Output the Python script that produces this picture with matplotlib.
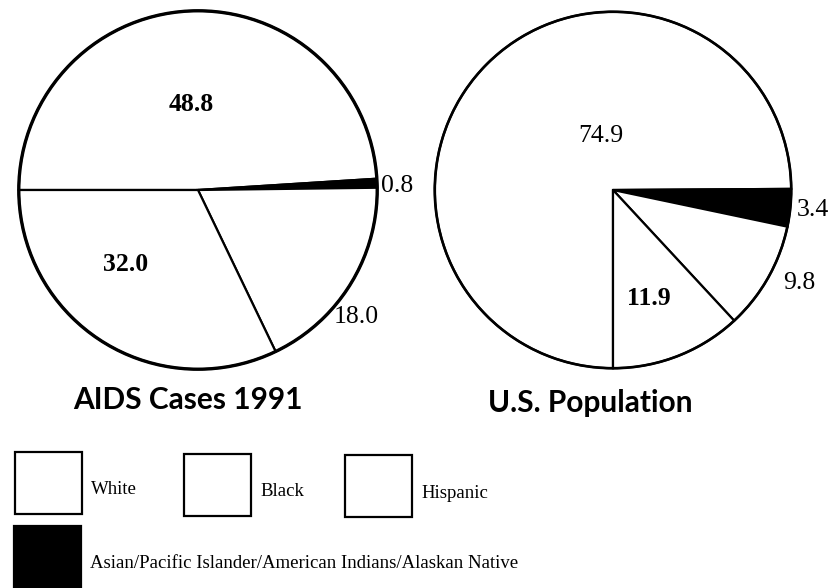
import matplotlib
matplotlib.use("Agg")
import matplotlib.pyplot as plt
from matplotlib.patches import Rectangle
import numpy as np

# ---- data ----
categories = ["White", "Asian/Pacific Islander/American Indians/Alaskan Native", "Hispanic", "Black"]
aids_values = [48.8, 0.8, 18.0, 32.0]
pop_values = [74.9, 3.4, 9.8, 11.9]
titles = ["AIDS Cases 1991", "U.S. Population"]
legend_labels = ["White", "Black", "Hispanic",
                 "Asian/Pacific Islander/American Indians/Alaskan Native"]

# ---- style ----
colors = ["white", "black", "white", "white"]
NARROW = ["Liberation Serif", "DejaVu Serif"]
TITLE_FONT = ["Lato", "DejaVu Sans"]

fig = plt.figure(figsize=(8.32, 5.88), dpi=100)
fig.patch.set_facecolor("white")

W, H = 832, 588

def add_square_axes(left_px, top_px, size_px):
    return fig.add_axes([left_px / W, 1 - (top_px + size_px) / H, size_px / W, size_px / H])

pies = [
    dict(values=aids_values, left=17, top=9, size=362, start=180, lw=2.4,
         # per-wedge label: (radius, angle tweak deg, weight)
         lab=[(0.48, 3, "bold"), (1.11, -1, "normal"), (1.13, -7, "normal"), (0.58, -12, "bold")],
         title_xy=(188, 400)),
    dict(values=pop_values, left=433, top=10, size=360, start=-90, lw=1.9,
         lab=[(0.31, -32, "normal"), (1.13, 0, "normal"), (1.17, 3, "normal"), (0.64, -3, "bold")],
         title_xy=(590, 403)),
]

for p, title in zip(pies, titles):
    ax = add_square_axes(p["left"], p["top"], p["size"])
    wedges, _ = ax.pie(p["values"], colors=colors, startangle=p["start"], counterclock=False,
                       radius=1.0, wedgeprops=dict(edgecolor="black", linewidth=1.6))
    circ = plt.Circle((0, 0), 1.0, fill=False, edgecolor="black", linewidth=p["lw"], zorder=5)
    ax.add_patch(circ)
    ax.set_xlim(-1.01, 1.01)
    ax.set_ylim(-1.01, 1.01)
    ax.set_aspect("equal")
    ax.axis("off")
    for w, v, (r, dth, wt) in zip(wedges, p["values"], p["lab"]):
        mid = np.deg2rad((w.theta1 + w.theta2) / 2 + dth)
        ax.text(r * np.cos(mid), r * np.sin(mid), f"{v:.1f}", ha="center", va="center",
                fontsize=18.5, family=NARROW, fontweight=wt, clip_on=False)
    fig.text(p["title_xy"][0] / W, 1 - p["title_xy"][1] / H, title, ha="center", va="center",
             fontsize=21.5, fontweight="bold", family=TITLE_FONT)

# ---- legend (drawn in pixel space) ----
lax = fig.add_axes([0, 0, 1, 1])
lax.set_xlim(0, W)
lax.set_ylim(H, 0)
lax.axis("off")
legend_colors = ["white", "white", "white", "black"]
legend_boxes = [(15, 452), (184, 454), (345, 455), (14, 526)]
for lbl, col, (x, y) in zip(legend_labels, legend_colors, legend_boxes):
    lax.add_patch(Rectangle((x, y), 67, 62, facecolor=col, edgecolor="black", linewidth=1.6))
    lax.text(x + 76, y + 38, lbl, ha="left", va="center", fontsize=13.5, family=NARROW)

fig.savefig("out.png", dpi=100, facecolor="white")
